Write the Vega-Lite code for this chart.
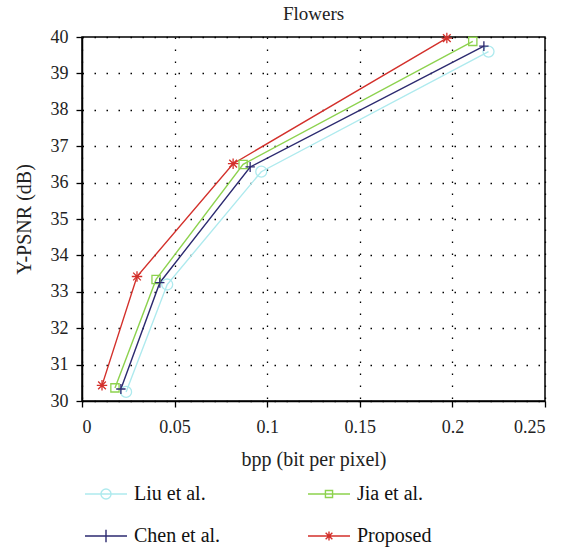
{
  "$schema": "https://vega.github.io/schema/vega-lite/v6.json",
  "autosize": {"type": "none"},
  "width": 463,
  "height": 364,
  "padding": {"left": 82, "top": 37, "right": 31, "bottom": 150},
  "title": {"text": "Flowers", "font": "Liberation Serif", "fontSize": 19, "fontWeight": "normal", "color": "#222", "offset": 4},
  "config": {
    "font": "Liberation Serif",
    "view": {"stroke": "#000", "strokeWidth": 1.5},
    "axis": {
      "labelFont": "Liberation Serif", "labelFontSize": 18, "labelColor": "#222",
      "titleFont": "Liberation Serif", "titleFontSize": 20, "titleFontWeight": "normal", "titleColor": "#222",
      "domainColor": "#000", "domainWidth": 1.5, "tickColor": "#000", "tickWidth": 1.3, "tickSize": 6,
      "grid": true, "gridColor": "#000", "gridDash": [1.5, 10.5], "gridWidth": 1.3, "gridOpacity": 1
    }
  },
  "data": {
    "values": [
      {"series": "Liu et al.", "bpp": 0.0238, "psnr": 30.25},
      {"series": "Liu et al.", "bpp": 0.046, "psnr": 33.2},
      {"series": "Liu et al.", "bpp": 0.0968, "psnr": 36.3},
      {"series": "Liu et al.", "bpp": 0.2195, "psnr": 39.6},
      {"series": "Jia et al.", "bpp": 0.0178, "psnr": 30.36},
      {"series": "Jia et al.", "bpp": 0.040, "psnr": 33.34},
      {"series": "Jia et al.", "bpp": 0.087, "psnr": 36.5},
      {"series": "Jia et al.", "bpp": 0.211, "psnr": 39.88},
      {"series": "Chen et al.", "bpp": 0.021, "psnr": 30.33},
      {"series": "Chen et al.", "bpp": 0.042, "psnr": 33.25},
      {"series": "Chen et al.", "bpp": 0.0908, "psnr": 36.43},
      {"series": "Chen et al.", "bpp": 0.217, "psnr": 39.75},
      {"series": "Proposed", "bpp": 0.0108, "psnr": 30.43},
      {"series": "Proposed", "bpp": 0.0297, "psnr": 33.42},
      {"series": "Proposed", "bpp": 0.0816, "psnr": 36.52},
      {"series": "Proposed", "bpp": 0.197, "psnr": 39.97}
    ]
  },
  "encoding": {
    "x": {
      "field": "bpp", "type": "quantitative",
      "scale": {"domain": [0, 0.25], "nice": false},
      "axis": {"values": [0, 0.05, 0.1, 0.15, 0.2, 0.25], "format": ".2~f", "title": "bpp (bit per pixel)", "labelPadding": 11, "titlePadding": 13}
    },
    "y": {
      "field": "psnr", "type": "quantitative",
      "scale": {"domain": [30, 40], "nice": false, "zero": false},
      "axis": {"values": [30, 31, 32, 33, 34, 35, 36, 37, 38, 39, 40], "title": "Y-PSNR (dB)", "labelPadding": 8, "titlePadding": 16}
    },
    "color": {
      "field": "series", "type": "nominal",
      "scale": {
        "domain": ["Liu et al.", "Jia et al.", "Chen et al.", "Proposed"],
        "range": ["#aeeaee", "#8dd24e", "#2c2a70", "#d3302b"]
      },
      "legend": {
        "title": null, "orient": "none", "legendX": 2, "legendY": 435,
        "direction": "horizontal", "columns": 2, "columnPadding": 84, "rowPadding": 10,
        "symbolSize": 1764, "symbolStrokeWidth": 1.4, "symbolOpacity": 1, "symbolFillColor": "transparent",
        "symbolType": {"expr": "datum.value === 'Liu et al.' ? 'M-1,0L1,0M0.24,0A0.24,0.24 0 1,1 -0.24,0A0.24,0.24 0 1,1 0.24,0Z' : datum.value === 'Jia et al.' ? 'M-1,0L1,0M-0.17,-0.17L0.17,-0.17L0.17,0.17L-0.17,0.17Z' : datum.value === 'Chen et al.' ? 'M-1,0L1,0M0,-0.3L0,0.3' : 'M-1,0L1,0M0,-0.22L0,0.22M-0.16,-0.16L0.16,0.16M-0.16,0.16L0.16,-0.16'"},
        "labelFont": "Liberation Serif", "labelFontSize": 20, "labelColor": "#111", "labelOffset": 6, "labelLimit": 300
      }
    }
  },
  "layer": [
    {
      "mark": {"type": "line", "strokeWidth": 1.4},
      "encoding": {"order": {"field": "bpp", "type": "quantitative"}}
    },
    {
      "mark": {"type": "point", "filled": false, "size": 121, "strokeWidth": 1.3, "opacity": 1},
      "encoding": {
        "shape": {
          "field": "series", "type": "nominal",
          "scale": {
            "domain": ["Proposed", "Chen et al.", "Jia et al.", "Liu et al."],
            "range": [
              "M-0.95,0L0.95,0M0,-0.95L0,0.95M-0.7,-0.7L0.7,0.7M-0.7,0.7L0.7,-0.7",
              "M-0.85,0L0.85,0M0,-0.9L0,0.9",
              "M-0.75,-0.75L0.75,-0.75L0.75,0.75L-0.75,0.75Z",
              "M1,0A1,1 0 1,1 -1,0A1,1 0 1,1 1,0Z"
            ]
          },
          "legend": null
        }
      }
    }
  ]
}
